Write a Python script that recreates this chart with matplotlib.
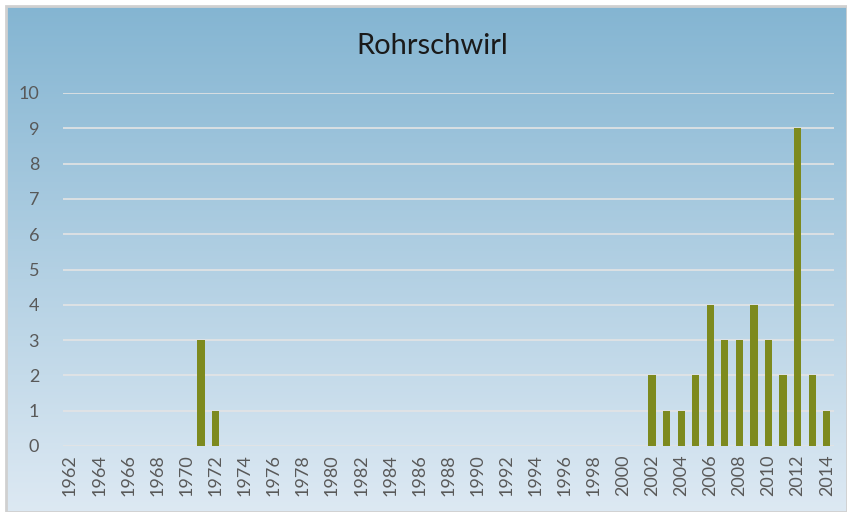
import numpy as np
import matplotlib.pyplot as plt
from matplotlib.patches import Rectangle

years = list(range(1962, 2015))
counts = {1971: 3, 1972: 1, 2002: 2, 2003: 1, 2004: 1, 2005: 2, 2006: 4,
          2007: 3, 2008: 3, 2009: 4, 2010: 3, 2011: 2, 2012: 9, 2013: 2, 2014: 1}
values = [counts.get(y, 0) for y in years]
tick_labels = [str(y) for y in years[::2]]

plt.rcParams["font.family"] = ["Lato", "DejaVu Sans"]

W, H = 847, 512
fig = plt.figure(figsize=(W / 100, H / 100), dpi=100)
fig.patch.set_facecolor("white")

# chart area with vertical gradient
bg = fig.add_axes([6 / W, 0, 1 - 6 / W, 1 - 6 / H])
grad = np.linspace(0, 1, 256).reshape(-1, 1)
top = np.array([0x84, 0xb5, 0xd2]) / 255
bottom = np.array([0xdd, 0xe9, 0xf3]) / 255
img = top + (bottom - top) * grad[:, :, None] * np.ones((1, 1, 3))
bg.imshow(img.reshape(256, 1, 3), aspect="auto", extent=[0, 1, 0, 1])
bg.set_xlim(0, 1)
bg.set_ylim(0, 1)
bg.axis("off")
bg.add_patch(Rectangle((0, 0), 1, 1, fill=False, edgecolor="#d0d0d0",
                       linewidth=2, transform=bg.transAxes, clip_on=False))

ax = fig.add_axes([62.7 / W, 1 - 446 / H, (834 - 62.7) / W, (446 - 93) / H])
ax.patch.set_alpha(0)
x = np.arange(len(years))
ax.bar(x, values, width=0.5, color="#7d8a1e", zorder=3)
ax.set_xlim(-0.5, len(years) - 0.5)
ax.set_ylim(0, 10)
ax.set_yticks(range(0, 11))
ax.set_xticks(x[::2])
ax.set_xticklabels(tick_labels, rotation=90)
ax.tick_params(axis="both", length=0, colors="#595959", labelsize=13)
ax.tick_params(axis="y", pad=17)
ax.tick_params(axis="x", pad=6)
ax.grid(axis="y", color="#e4e4e4", linewidth=1.2, zorder=0)
for s in ax.spines.values():
    s.set_visible(False)

fig.text(432 / W, 1 - 46 / H, "Rohrschwirl", ha="center", va="center",
         fontsize=21, color="#1a1a1a")

fig.savefig("out.png", dpi=100)
